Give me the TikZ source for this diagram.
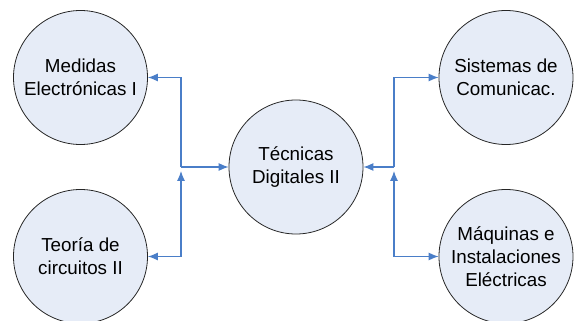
\documentclass[tikz,border=0pt]{standalone}
\usepackage{fontspec}
\setmainfont{Liberation Sans}
\usetikzlibrary{arrows.meta}
\definecolor{relleno}{HTML}{E6ECF7}
\definecolor{flecha}{HTML}{4A7EC8}

\begin{document}
\begin{tikzpicture}[x=1pt,y=-1pt,
  materia/.style={circle,draw=black!85,line width=0.8pt,fill=relleno,minimum size=134pt,inner sep=0pt,align=center,font=\fontsize{18.8}{22.7}\selectfont},
  enlace/.style={draw=flecha,line width=1.1pt,-{Latex[length=10pt,width=8pt]}}]
\useasboundingbox (0,0) rectangle (574,321);
\clip (0,0) rectangle (574,321);
\node [materia] (med) at (80.5,77.5) {Medidas\\Electrónicas I};
\node [materia] (teo) at (80.5,256.5) {Teoría de\\circuitos II};
\node [materia] (tec) at (296,167) {Técnicas\\Digitales II};
\node [materia] (sis) at (506,77.5) {Sistemas de\\Comunicac.};
\node [materia] (maq) at (506,256.5) {Máquinas e\\Instalaciones\\Eléctricas};
\coordinate (jl) at (181,167);
\coordinate (jr) at (394,167);
% lado izquierdo
\draw [enlace] (jl) |- (med);
\draw [enlace] (jl) -- (tec);
\draw [enlace,{Latex[length=10pt,width=8pt]}-{Latex[length=10pt,width=8pt]},shorten <=4pt] (jl) |- (teo);
% lado derecho
\draw [enlace] (jr) |- (sis);
\draw [enlace] (jr) -- (tec);
\draw [enlace,{Latex[length=10pt,width=8pt]}-{Latex[length=10pt,width=8pt]},shorten <=4pt] (jr) |- (maq);
\end{tikzpicture}
\end{document}
